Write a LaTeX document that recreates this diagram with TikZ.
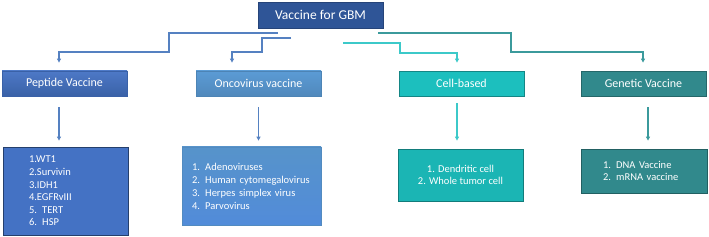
\documentclass[tikz,border=0pt]{standalone}
\usepackage{fontspec}
\setmainfont{Carlito}
\usepackage{xcolor}
\usepackage{tikz}
\usetikzlibrary{arrows.meta, positioning, calc}

\definecolor{navy}{HTML}{2F5597}
\definecolor{pepblue}{HTML}{4472C4}
\definecolor{oncoblue}{HTML}{5B9BD5}
\definecolor{cellteal}{HTML}{1CBFBE}
\definecolor{genteal}{HTML}{31898C}
\definecolor{linkblue}{HTML}{5581C1}
\definecolor{linkcyan}{HTML}{3CC9C9}
\definecolor{linkteal}{HTML}{3B9A9C}

\begin{document}
\begin{tikzpicture}[x=1pt, y=-1pt, font=\fontsize{10.5}{12.6}\selectfont,
  box/.style={draw, rectangle, text=white, inner sep=0pt, line width=0.8pt},
  catbox/.style={box, minimum width=125pt, minimum height=25pt, font=\fontsize{12}{14}\selectfont},
  link/.style={line width=1.2pt, -{Triangle[length=4pt, width=4pt]}}]
  \useasboundingbox (0,0) rectangle (709,237);

  \node[box, fill=navy, draw=navy!80!black, minimum width=125pt, minimum height=26pt,
        font=\fontsize{13.5}{15}\selectfont] (gbm) at (320.5,15) {Vaccine for GBM};

  \node[catbox, top color=pepblue!95!white, bottom color=pepblue!85!black, draw=pepblue!85!black] (pep) at (64.5,83.5) {Peptide Vaccine};
  \node[catbox, top color=oncoblue, bottom color=oncoblue!88!black, draw=oncoblue!85!black] (onco) at (258.5,83.5) {Oncovirus vaccine};
  \node[catbox, fill=cellteal, draw=cellteal!70!black] (cell) at (461.5,83.5) {Cell-based};
  \node[catbox, fill=genteal, draw=genteal!75!black] (gen) at (643.5,83.5) {Genetic Vaccine};

  \node[box, fill=pepblue, draw=pepblue!55!black, minimum width=125pt, minimum height=88pt,
        text width=73pt, inner xsep=26pt, align=left] (peplist) at (65.5,191)
        {1.WT1\\2.Survivin\\3.IDH1\\4.EGFRvIII\\5. TERT\\6. HSP};
  \node[box, top color=oncoblue!95!black, bottom color=oncoblue!90!blue, draw=oncoblue!90!black,
        minimum width=139pt, minimum height=78pt, text width=119pt, inner xsep=10pt, align=left,
        font=\fontsize{10.5}{13}\selectfont] (oncolist) at (251.5,186)
        {1. Adenoviruses\\2. Human cytomegalovirus\\3. Herpes simplex virus\\4. Parvovirus\\[8pt]};
  \node[box, fill=cellteal!95!black, draw=cellteal!65!black, minimum width=125pt, minimum height=52pt,
        align=center] (celllist) at (460.5,175) {1. Dendritic cell\\2. Whole tumor cell};
  \node[box, fill=genteal, draw=genteal!70!black, minimum width=126pt, minimum height=44pt,
        text width=82pt, inner xsep=22pt, align=left] (genlist) at (644,171) {1. DNA Vaccine\\2. mRNA vaccine};

  % branches from the top
  \coordinate (s1) at (278,33);
  \coordinate (s2) at (291,38);
  \coordinate (s3) at (343,43);
  \coordinate (s4) at (378,33);
  \coordinate (b1) at (59,52);
  \coordinate (b2) at (232,52);
  \coordinate (b3) at (457,53);
  \coordinate (b4) at (643,52);
  \draw[link, linkblue, shorten >=8pt] (s1) -- (169,33) -- (169,52) -- (b1) -- (b1 |- pep.north);
  \draw[link, linkblue, shorten >=8pt] (s2) -- (262,38) -- (262,52) -- (b2) -- (b2 |- onco.north);
  \draw[link, linkcyan, shorten >=8pt] (s3) -- (400,43) -- (400,53) -- (b3) -- (b3 |- cell.north);
  \draw[link, linkteal, shorten >=8pt] (s4) -- (511,33) -- (511,52) -- (b4) -- (b4 |- gen.north);

  % down to the lists
  \draw[link, linkblue, shorten <=11pt, shorten >=6pt] ([xshift=-5.5pt]pep.south) -- ([xshift=-5.5pt]pep.south |- peplist.north);
  \draw[link, linkblue, shorten <=11pt, shorten >=6pt] (onco.south) -- (onco.south |- oncolist.north);
  \draw[link, linkcyan, shorten <=7pt, shorten >=8pt] ([xshift=-4.5pt]cell.south) -- ([xshift=-4.5pt]cell.south |- celllist.north);
  \draw[link, linkteal, shorten <=11pt, shorten >=8pt] ([xshift=4.5pt]gen.south) -- ([xshift=4.5pt]gen.south |- genlist.north);
\end{tikzpicture}
\end{document}
